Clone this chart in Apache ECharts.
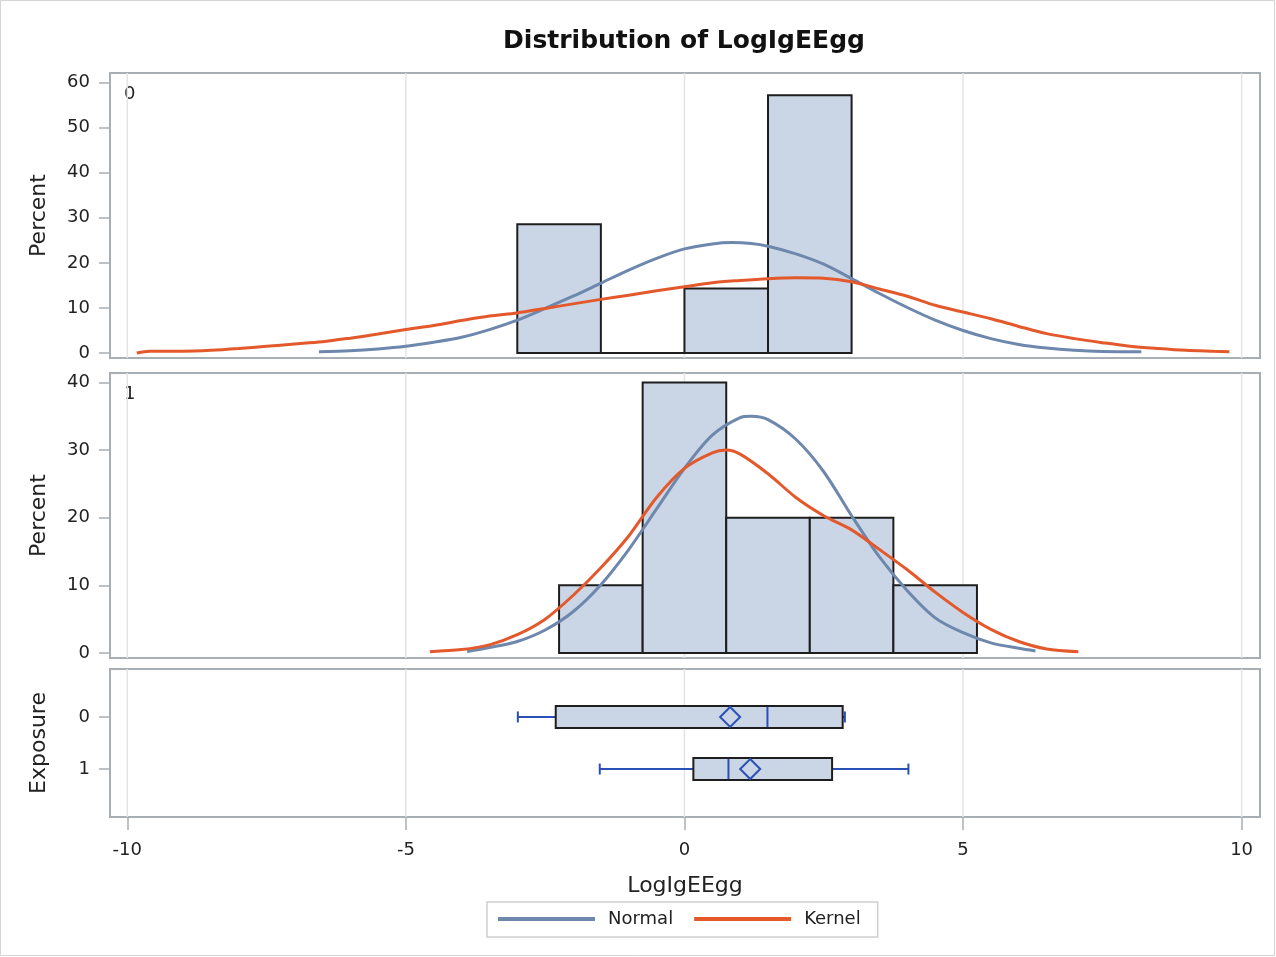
<!DOCTYPE html>
<html><head><meta charset="utf-8">
<script src="https://cdn.jsdelivr.net/npm/echarts@6/dist/echarts.min.js"></script>
<style>html,body{margin:0;padding:0;background:#fff}#c{width:1276px;height:957px}</style>
</head><body><div id="c"></div>
<script>
const titleText = 'Distribution of LogIgEEgg';
const xName = 'LogIgEEgg';
const yName = 'Percent';
const boxAxisName = 'Exposure';
const panelLabels = ['0', '1'];
const xTicks = [-10, -5, 0, 5, 10];
const pctTicks0 = [0, 10, 20, 30, 40, 50, 60];
const pctTicks1 = [0, 10, 20, 30, 40];
const exposureTicks = [0, 1];
// histogram bins: [lower, upper, percent]
const hist0 = [[-3, -1.5, 28.57], [-1.5, 0, 0], [0, 1.5, 14.29], [1.5, 3, 57.14]];
const hist1 = [[-2.25, -0.75, 10], [-0.75, 0.75, 40], [0.75, 2.25, 20], [2.25, 3.75, 20], [3.75, 5.25, 10]];
// fitted curves: [x, percent]
const normal0 = [[-6.56,0.3],[-6,0.5],[-5.5,0.9],[-5,1.5],[-4.5,2.4],[-4,3.5],[-3.5,5.2],[-3,7.3],[-2.5,9.9],[-2,12.6],[-1.5,15.5],[-1,18.4],[-0.5,21],[0,23.1],[0.5,24.2],[0.85,24.5],[1.2,24.3],[1.5,23.7],[2,22],[2.5,19.7],[3,16.5],[3.5,13.2],[4,10.1],[4.5,7.3],[5,5.0],[5.5,3.2],[6,1.9],[6.5,1.1],[7,0.6],[7.5,0.35],[8.2,0.3]];
const kernel0 = [[-9.83,0],[-9.6,0.4],[-9,0.4],[-8.5,0.6],[-8,1.0],[-7.5,1.5],[-7,2.0],[-6.5,2.5],[-6,3.3],[-5.5,4.2],[-5,5.2],[-4.5,6.1],[-4,7.2],[-3.5,8.2],[-3,8.9],[-2.5,9.9],[-2,10.9],[-1.5,11.9],[-1,12.8],[-0.5,13.8],[0,14.7],[0.5,15.6],[1,16.1],[1.5,16.5],[2,16.7],[2.5,16.6],[3,15.8],[3.5,14.2],[4,12.6],[4.5,10.6],[5,9.1],[5.5,7.6],[6,5.9],[6.5,4.3],[7,3.2],[7.5,2.3],[8,1.5],[8.5,1.0],[9,0.6],[9.5,0.4],[9.78,0.3]];
const normal1 = [[-3.9,0.2],[-3.5,0.8],[-3,1.7],[-2.5,3.4],[-2,6.1],[-1.5,10.1],[-1,15.3],[-0.5,21.3],[0,27.3],[0.5,32.2],[1,34.8],[1.2,35.0],[1.5,34.5],[2,31.6],[2.5,26.8],[3,20.3],[3.5,14.2],[4,9.2],[4.5,5.2],[5,3.0],[5.5,1.5],[6,0.7],[6.3,0.3]];
const kernel1 = [[-4.57,0.2],[-4,0.5],[-3.5,1.2],[-3,2.7],[-2.5,5.0],[-2,8.5],[-1.5,12.6],[-1,17.3],[-0.5,23.0],[0,27.3],[0.5,29.6],[0.75,30.0],[1,29.4],[1.5,26.5],[2,23.0],[2.5,20.3],[3,18.2],[3.5,15.3],[4,12.3],[4.5,9.0],[5,6.0],[5.5,3.5],[6,1.7],[6.5,0.6],[7.07,0.2]];
// box plots: [exposure, min, q1, median, q3, max, mean]
const boxExp0 = [0, -2.99, -2.31, 1.49, 2.84, 2.88, 0.82];
const boxExp1 = [1, -1.52, 0.16, 0.79, 2.65, 4.02, 1.18];

const F = 'DejaVu Sans';
const FRAME = '#a7aeb4';
const C_N = '#6d87ad';
const C_K = '#e3592b';
const C_BOX = '#2a50b8';
const FILL = '#cad5e5';

const chart = echarts.init(document.getElementById('c'));

function renderBar(params, api) {
  const p0 = api.coord([api.value(0), api.value(2)]);
  const p1 = api.coord([api.value(1), 0]);
  return {type: 'rect', shape: {x: p0[0], y: p0[1], width: p1[0] - p0[0], height: p1[1] - p0[1]},
    style: {fill: FILL, stroke: '#1e1e1e', lineWidth: 2}};
}
function renderGridLine(params, api) {
  const cs = params.coordSys;
  const x = api.coord([api.value(0), 0])[0];
  return {type: 'line', shape: {x1: x, y1: cs.y, x2: x, y2: cs.y + cs.height},
    style: {stroke: '#e4e4e4', lineWidth: 1.5}};
}
function renderBox(params, api) {
  const row = api.value(0);
  const pMin = api.coord([api.value(1), row]);
  const pQ1 = api.coord([api.value(2), row]);
  const pMed = api.coord([api.value(3), row]);
  const pQ3 = api.coord([api.value(4), row]);
  const pMax = api.coord([api.value(5), row]);
  const pMean = api.coord([api.value(6), row]);
  const y = pMin[1], h = 11, c = 5.5, r = 10;
  const ls = {stroke: C_BOX, lineWidth: 2};
  return {type: 'group', children: [
    {type: 'line', shape: {x1: pMin[0], y1: y, x2: pQ1[0], y2: y}, style: ls},
    {type: 'line', shape: {x1: pMin[0], y1: y - c, x2: pMin[0], y2: y + c}, style: ls},
    {type: 'line', shape: {x1: pQ3[0], y1: y, x2: pMax[0], y2: y}, style: ls},
    {type: 'line', shape: {x1: pMax[0], y1: y - c, x2: pMax[0], y2: y + c}, style: ls},
    {type: 'rect', shape: {x: pQ1[0], y: y - h, width: pQ3[0] - pQ1[0], height: 2 * h},
      style: {fill: FILL, stroke: '#1e1e1e', lineWidth: 2}},
    {type: 'line', shape: {x1: pMed[0], y1: y - h + 1, x2: pMed[0], y2: y + h - 1}, style: ls},
    {type: 'polygon', shape: {points: [[pMean[0], y - r], [pMean[0] + r, y], [pMean[0], y + r], [pMean[0] - r, y]]},
      style: {fill: 'none', stroke: C_BOX, lineWidth: 2}}
  ]};
}

const grids = [
  {left: 110, top: 73, width: 1150, height: 285},
  {left: 110, top: 373, width: 1150, height: 285},
  {left: 110, top: 669, width: 1150, height: 148}
].map(g => Object.assign({show: true, borderColor: FRAME, borderWidth: 2, backgroundColor: 'transparent'}, g));

function xAx(gi, show) {
  return {type: 'value', gridIndex: gi, min: -10.31, max: 10.33,
    axisLine: {show: false, onZero: false}, splitLine: {show: false},
    axisTick: {show: show, customValues: xTicks, length: 13, lineStyle: {color: FRAME, width: 1.5}},
    axisLabel: {show: show, customValues: xTicks, margin: 24, fontSize: 18, color: '#222', fontFamily: F},
    name: show ? xName : '', nameLocation: 'middle', nameGap: 58,
    nameTextStyle: {fontSize: 22, color: '#222', fontFamily: F}};
}
function yAx(gi, min, max, ticks, name, inverse) {
  return {type: 'value', gridIndex: gi, min: min, max: max, inverse: !!inverse,
    axisLine: {show: false, onZero: false}, splitLine: {show: false},
    axisTick: {show: true, customValues: ticks, length: 11, lineStyle: {color: FRAME, width: 1.5}},
    axisLabel: {customValues: ticks, margin: 20, fontSize: 18, color: '#222', fontFamily: F},
    name: name, nameLocation: 'middle', nameGap: 60,
    nameTextStyle: {fontSize: 22, color: '#222', fontFamily: F}};
}

function gridSeries(gi) {
  return {type: 'custom', xAxisIndex: gi, yAxisIndex: gi, data: xTicks.map(v => [v]),
    encode: {x: 0}, renderItem: renderGridLine, silent: true, z: 1};
}
function histSeries(gi, data) {
  return {type: 'custom', xAxisIndex: gi, yAxisIndex: gi, data: data,
    encode: {x: [0, 1], y: 2}, renderItem: renderBar, silent: true, z: 2};
}
function curve(gi, name, data, color) {
  return {type: 'line', name: name, xAxisIndex: gi, yAxisIndex: gi, data: data,
    showSymbol: false, symbol: 'none', smooth: 0.3, silent: true, z: 4,
    lineStyle: {color: color, width: 3}, itemStyle: {color: color}};
}

chart.setOption({
  animation: false,
  backgroundColor: '#fff',
  title: {text: titleText, left: 679, textAlign: 'center', top: 24,
    textStyle: {fontFamily: F, fontSize: 25, fontWeight: 'bold', color: '#111'}},
  legend: {data: [{name: 'Normal', icon: 'rect'}, {name: 'Kernel', icon: 'rect'}],
    left: 487, top: 902, orient: 'horizontal', itemWidth: 97, itemHeight: 4, itemGap: 21,
    padding: [7, 17, 8, 11], borderColor: '#cfcfcf', borderWidth: 1.5,
    textStyle: {fontFamily: F, fontSize: 18, color: '#222', padding: [0, 0, 0, 8], lineHeight: 20}},
  grid: grids,
  xAxis: [xAx(0, false), xAx(1, false), xAx(2, true)],
  yAxis: [
    yAx(0, -1.1, 62.1, pctTicks0, yName),
    yAx(1, -0.74, 41.4, pctTicks1, yName),
    yAx(2, -0.92, 1.92, exposureTicks, boxAxisName, true)
  ],
  graphic: [
    {type: 'rect', shape: {x: 0.5, y: 0.5, width: 1274, height: 955}, style: {fill: 'none', stroke: '#d4d4d4', lineWidth: 1}, silent: true, z: -1},
    {type: 'text', left: 124, top: 85, style: {text: panelLabels[0], font: '18px "DejaVu Sans"', fill: '#222'}},
    {type: 'text', left: 124, top: 385, style: {text: panelLabels[1], font: '18px "DejaVu Sans"', fill: '#222'}}
  ],
  series: [
    gridSeries(0), gridSeries(1), gridSeries(2),
    histSeries(0, hist0), histSeries(1, hist1),
    curve(0, 'Normal', normal0, C_N), curve(0, 'Kernel', kernel0, C_K),
    curve(1, 'Normal', normal1, C_N), curve(1, 'Kernel', kernel1, C_K),
    {type: 'custom', xAxisIndex: 2, yAxisIndex: 2, data: [boxExp0, boxExp1],
      encode: {x: [1, 2, 3, 4, 5, 6], y: 0}, renderItem: renderBox, silent: true, z: 3}
  ]
});
</script></body></html>
